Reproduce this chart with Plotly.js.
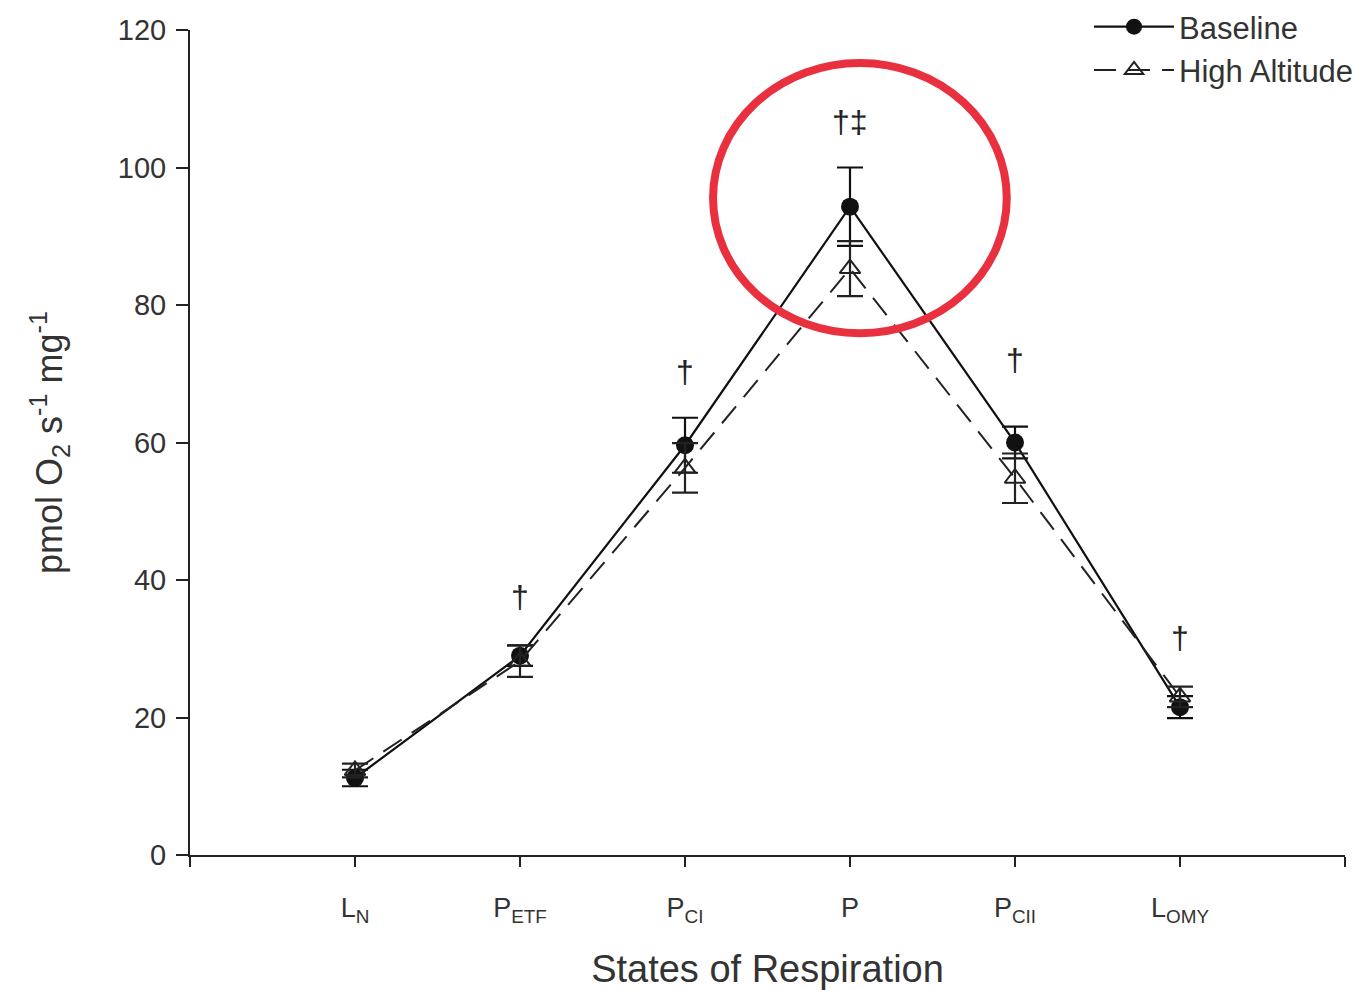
<!DOCTYPE html>
<html>
<head>
<meta charset="utf-8">
<script src="https://cdn.plot.ly/plotly-3.0.1.min.js"></script>
<style>html,body{margin:0;padding:0;background:#fff;}#chart{width:1370px;height:990px;}</style>
</head>
<body>
<div id="chart"></div>
<script>
const categories = ["L<sub>N</sub>", "P<sub>ETF</sub>", "P<sub>CI</sub>", "P", "P<sub>CII</sub>", "L<sub>OMY</sub>"];
const baseline = [11.2, 29.0, 59.6, 94.3, 60.0, 21.5];
const baselineErr = [1.2, 1.5, 4.0, 5.7, 2.3, 1.6];
const highAltitude = [12.3, 28.2, 56.3, 85.3, 54.8, 23.0];
const highAltitudeErr = [1.0, 2.3, 3.6, 4.0, 3.6, 1.5];
const sigLabels = ["", "†", "†", "†‡", "†", "†"];
const sigY = [null, 37.5, 70.3, 106.6, 72.0, 31.6];

const xs = categories.map((c, i) => i + 1);

const traces = [
  {
    x: xs, y: baseline, name: "Baseline", type: "scatter", mode: "lines+markers",
    line: {color: "#111", width: 2.2},
    marker: {symbol: "circle", size: 18, color: "#111"},
    error_y: {type: "data", array: baselineErr, visible: true, color: "#111", thickness: 2.2, width: 13}
  },
  {
    x: xs, y: highAltitude, name: "High Altitude", type: "scatter", mode: "lines+markers",
    line: {color: "#222", width: 2, dash: "22px,12px"},
    marker: {symbol: "triangle-up-open", size: 18, color: "#222", line: {width: 2}},
    error_y: {type: "data", array: highAltitudeErr, visible: true, color: "#222", thickness: 2.2, width: 13}
  }
];

const annotations = sigLabels.map((t, i) => t ? ({
  x: xs[i], y: sigY[i], xref: "x", yref: "y", text: t, showarrow: false,
  font: {family: "Liberation Sans, Arial, sans-serif", size: 32, color: "#222"}
}) : null).filter(a => a);

const layout = {
  width: 1370, height: 990,
  margin: {l: 190, r: 25, t: 30, b: 135, autoexpand: false},
  paper_bgcolor: "#fff", plot_bgcolor: "#fff",
  font: {family: "Liberation Sans, Arial, sans-serif", color: "#333", size: 26},
  showlegend: true,
  legend: {
    xref: "container", yref: "container",
    x: 0.992, y: 1.0, xanchor: "right", yanchor: "top",
    font: {size: 31, color: "#333"}, bgcolor: "rgba(0,0,0,0)", itemwidth: 80, tracegroupgap: 0
  },
  xaxis: {
    range: [0, 7], automargin: false, showgrid: false, zeroline: false, showline: true, linecolor: "#222", linewidth: 2,
    ticks: "outside", ticklen: 10, tickwidth: 2, tickcolor: "#222",
    tickvals: [0].concat(xs).concat([7]), ticktext: [""].concat(categories).concat([""]),
    tickfont: {size: 27, color: "#333"}, ticklabelstandoff: 18,
    title: {text: "States of Respiration", font: {size: 38, color: "#333"}, standoff: 32}
  },
  yaxis: {
    range: [0, 120], automargin: false, showgrid: false, zeroline: false, showline: true, linecolor: "#222", linewidth: 2,
    ticks: "outside", ticklen: 12, tickwidth: 2, tickcolor: "#222",
    tickvals: [0, 20, 40, 60, 80, 100, 120],
    tickfont: {size: 29, color: "#333"}, ticklabelstandoff: 4,
    title: {text: "pmol O<sub>2</sub> s<sup>-1</sup> mg<sup>-1</sup>", font: {size: 36, color: "#333"}, standoff: 44}
  },
  annotations: annotations,
  shapes: [{
    type: "circle", xref: "x", yref: "y",
    x0: 3.17, x1: 4.95, y0: 75.9, y1: 115.2,
    line: {color: "#e8303f", width: 8}
  }]
};

Plotly.newPlot("chart", traces, layout, {displayModeBar: false, staticPlot: true});
</script>
</body>
</html>
